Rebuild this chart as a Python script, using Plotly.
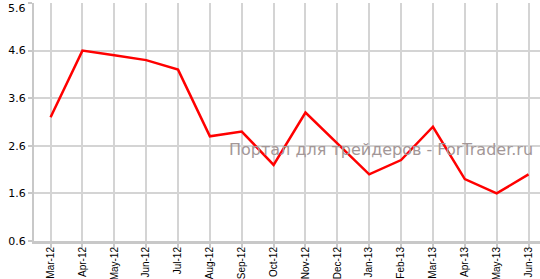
import plotly.graph_objects as go

months = ["Mar-12", "Apr-12", "May-12", "Jun-12", "Jul-12", "Aug-12", "Sep-12", "Oct-12",
          "Nov-12", "Dec-12", "Jan-13", "Feb-13", "Mar-13", "Apr-13", "May-13", "Jun-13"]
values = [3.2, 4.6, 4.5, 4.4, 4.2, 2.8, 2.9, 2.2, 3.3, 2.65, 2.0, 2.3, 3.0, 1.9, 1.6, 2.0]
y_ticks = [0.6, 1.6, 2.6, 3.6, 4.6, 5.6]
watermark = "Портал для трейдеров - ForTrader.ru"

FONT = "DejaVu Sans, Verdana, sans-serif"
XFONT = "Liberation Sans, Arial, sans-serif"

fig = go.Figure()
fig.add_trace(go.Scatter(
    x=list(range(len(months))), y=values, mode="lines",
    line=dict(color="#ff0000", width=2.5),
    hoverinfo="skip",
))

# top tick label is pushed down so it stays inside the picture
top_label = dict(
    text=f"{y_ticks[-1]:.1f}", xref="paper", yref="y", x=0, y=y_ticks[-1],
    xanchor="right", yanchor="top", xshift=-6, yshift=3, showarrow=False,
    font=dict(size=11, color="#000000", family=FONT),
)

fig.update_layout(
    width=540, height=279,
    margin=dict(l=34, r=0, t=3, b=38),
    paper_bgcolor="white", plot_bgcolor="white",
    showlegend=False,
    font=dict(family=FONT, color="#000000"),
    annotations=[dict(
        text=watermark, xref="paper", yref="paper", x=0.685, y=0.385,
        xanchor="center", yanchor="middle", showarrow=False,
        font=dict(size=16, color="#a39797", family=FONT),
    ), top_label],
)
fig.update_xaxes(
    range=[-0.52, 15.36], automargin=False,
    tickmode="array", tickvals=list(range(len(months))), ticktext=months,
    tickangle=-90, tickfont=dict(size=10, color="#000000", family=XFONT),
    ticklabelstandoff=-5,
    showgrid=True, gridcolor="#d4d4d4", gridwidth=1.5,
    showline=True, linecolor="#c8c8c8", linewidth=3,
    ticks="outside", ticklen=4, tickcolor="#c8c8c8", tickwidth=1.5,
    zeroline=False,
)
fig.update_yaxes(
    range=[0.6, 5.6], automargin=False,
    tickmode="array", tickvals=y_ticks,
    ticktext=[f"{v:.1f}" for v in y_ticks[:-1]] + [""],
    tickfont=dict(size=11, color="#000000"),
    showgrid=True, gridcolor="#d4d4d4", gridwidth=1.5,
    showline=True, linecolor="#c8c8c8", linewidth=2,
    ticks="outside", ticklen=4, tickcolor="#c8c8c8", tickwidth=1.5,
    zeroline=False,
)

fig.write_html("out.html")
